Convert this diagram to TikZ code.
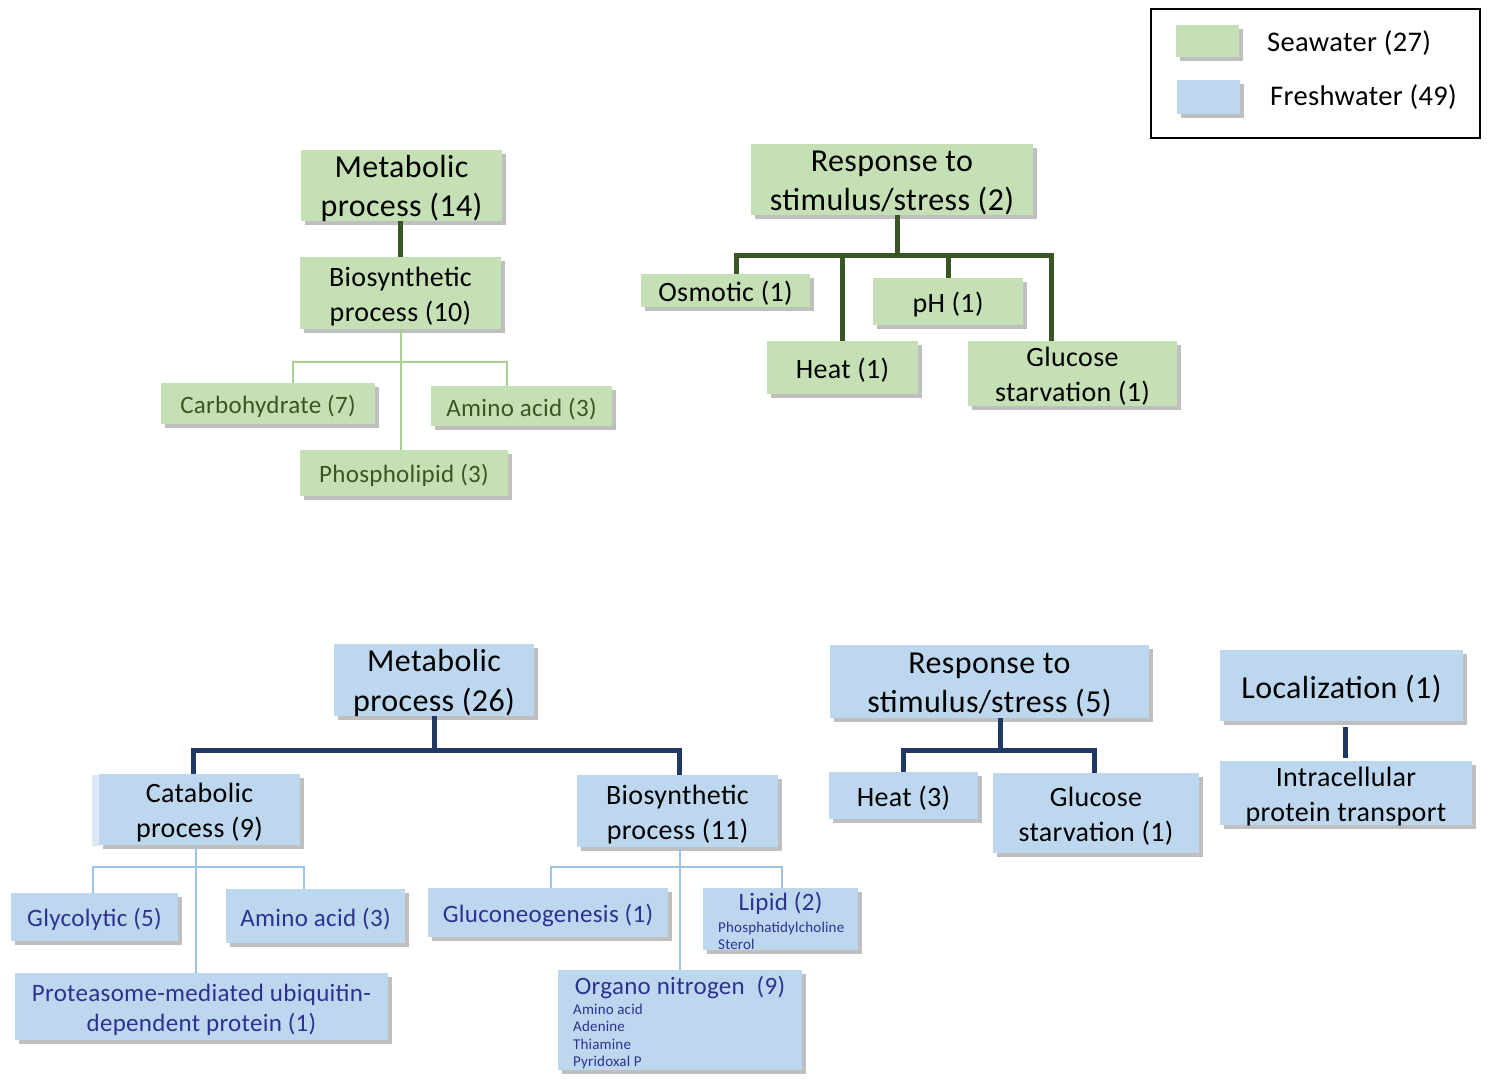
\documentclass[tikz,border=0pt]{standalone}
\usepackage{fontspec}
\setmainfont{Carlito}[LetterSpace=1.2]
\usetikzlibrary{shadows}
\definecolor{gfill}{HTML}{C5E0B4}
\definecolor{bfill}{HTML}{BDD7EE}
\definecolor{gdark}{HTML}{375623}
\definecolor{glight}{HTML}{A9D18E}
\definecolor{bdark}{HTML}{1F3864}
\definecolor{blight}{HTML}{9DC3E6}
\definecolor{gtext}{HTML}{385723}
\definecolor{btext}{HTML}{2E3192}
\newcommand\twol[2]{\raisebox{-3.5pt}[\dimexpr\height-14pt\relax][\dimexpr\depth-14pt\relax]{\begin{tabular}{@{}c@{}}#1\\#2\end{tabular}}}
\tikzset{
  sz/.style 2 args={minimum width=#1pt, minimum height=#2pt},
  shad/.style={drop shadow={shadow xshift=4pt, shadow yshift=-4pt, opacity=0.45, fill=black!55}},
  lower/.style={execute at begin node={\rule{0pt}{0.95em}}},
  gbox/.style={fill=gfill, draw=none, shad, inner sep=0pt, align=center, lower},
  bbox/.style={fill=bfill, draw=none, shad, inner sep=0pt, align=center, lower},
  big/.style={font=\fontsize{32}{39.5}\selectfont},
  mid/.style={font=\fontsize{28}{35}\selectfont},
  sml/.style={font=\fontsize{25}{30}\selectfont},
  tiny/.style={font=\fontsize{15}{17.3}\selectfont, align=left, inner sep=0pt},
  leg/.style={font=\fontsize{28.5}{34}\selectfont, inner sep=0pt, anchor=west},
  gthick/.style={draw=gdark, line width=5pt},
  gthin/.style={draw=glight, line width=2pt},
  bthick/.style={draw=bdark, line width=5pt},
  bthin/.style={draw=blight, line width=2pt},
}
\begin{document}
\begin{tikzpicture}[x=1pt,y=-1pt]
\fill[white] (0,0) rectangle (1487,1080);
\useasboundingbox (0,0) rectangle (1487,1080);

% legend
\node[draw=black, line width=2pt, sz={329}{129}] (legend) at (1315.5,73.5) {};
\node[gbox, sz={63}{32}] (lg) at (1207.5,41) {};
\node[bbox, sz={63}{34}] (lb) at (1208.5,97) {};
\node[leg] (lgt) at (1267,43) {Seawater (27)};
\node[leg] (lbt) at (1270,97.5) {Freshwater (49)};

% ---- seawater: metabolic
\node[gbox, big, sz={201}{71}] (m14) at (401.5,185.5) {\twol{Metabolic}{process (14)}};
\node[gbox, mid, sz={201}{72}] (b10) at (400.5,293) {\twol{Biosynthetic}{process (10)}};
\node[gbox, sml, text=gtext, sz={214}{41}] (carb) at (268,403.5) {Carbohydrate (7)};
\node[gbox, sml, text=gtext, sz={181}{40}] (amino) at (521.5,406) {Amino acid (3)};
\node[gbox, sml, text=gtext, sz={208}{46}] (phos) at (404,473) {Phospholipid (3)};
\coordinate (tlbus) at (400.5,362);
\draw[gthick] (m14.south -| b10.north) -- (b10.north);
\draw[gthin] (b10.south) -- (b10.south |- phos.north);
\draw[gthin] ([xshift=25pt]carb.north) |- (tlbus) -| ([xshift=-14.5pt]amino.north);

% ---- seawater: response
\node[gbox, big, sz={282}{71}] (r2) at (892,179.5) {\twol{Response to}{stimulus/stress (2)}};
\node[gbox, mid, sz={169}{33}] (osm) at (725.5,290.5) {Osmotic (1)};
\node[gbox, mid, sz={150}{47}] (ph) at (948,301.5) {pH (1)};
\node[gbox, mid, sz={151}{53}] (heat) at (842.5,367.5) {Heat (1)};
\node[gbox, mid, sz={209}{65}] (glu) at (1072.5,373.5) {\twol{Glucose}{starvation (1)}};
\coordinate (rbus) at (897,255);
\draw[gthick] ([xshift=5pt]r2.south) -- (rbus);
\draw[gthick, line join=miter] ([xshift=10.5pt]osm.north) |- (rbus) -| ([xshift=-21.5pt]glu.north);
\draw[gthick] (heat.north) -- (heat.north |- rbus);
\draw[gthick] (ph.north) -- (ph.north |- rbus);

% ---- freshwater: metabolic
\node[bbox, big, sz={200}{72}] (m26) at (434,680) {\twol{Metabolic}{process (26)}};
\fill[bfill!55] (92,775) rectangle (100,846);
\node[bbox, mid, sz={201}{71}] (cat) at (199.5,809.5) {\twol{Catabolic}{process (9)}};
\node[bbox, mid, sz={201}{72}] (b11) at (677.5,811) {\twol{Biosynthetic}{process (11)}};
\coordinate (blbus) at (434,750);
\draw[bthick] (m26.south) -- (blbus);
\draw[bthick, line join=miter] ([xshift=-6.5pt]cat.north) |- (blbus) -| ([xshift=1.5pt]b11.north);

\node[bbox, sml, text=btext, sz={167}{48}] (gly) at (94.5,917) {Glycolytic (5)};
\node[bbox, sml, text=btext, sz={179}{54}] (amino2) at (315.5,916) {Amino acid (3)};
\node[bbox, sml, text=btext, sz={373}{67}] (prot) at (201.5,1006.5) {\twol{Proteasome-mediated ubiquitin-}{dependent protein (1)}};
\coordinate (cbus) at (196,867);
\draw[bthin] (cat.south -| cbus) -- (prot.north -| cbus);
\draw[bthin] ([xshift=-1.5pt]gly.north) |- (cbus) -| ([xshift=-11.5pt]amino2.north);

\node[bbox, sml, text=btext, sz={240}{49}] (gluc) at (548,912.5) {Gluconeogenesis (1)};
\node[bbox, sz={155}{62}] (lipid) at (780.5,919) {};
\node[sml, text=btext, inner sep=0pt] (lipidt) at (780.5,903) {Lipid (2)};
\node[tiny, text=btext, anchor=west] (lipids) at (718,936) {Phosphatidylcholine\\Sterol};
\node[bbox, sz={244}{100}] (org) at (680,1020) {};
\node[sml, text=btext, inner sep=0pt] (orgt) at (680,987) {Organo nitrogen~~(9)};
\node[tiny, text=btext, anchor=north west] (orgs) at (573,1004) {Amino acid\\Adenine\\Thiamine\\Pyridoxal P};
\coordinate (bbus) at (680,867);
\draw[bthin] (b11.south -| bbus) -- (org.north -| bbus);
\draw[bthin] ([xshift=3pt]gluc.north) |- (bbus) -| ([xshift=1.5pt]lipid.north);

% ---- freshwater: response
\node[bbox, big, sz={319}{73}] (r5) at (989.5,681.5) {\twol{Response to}{stimulus/stress (5)}};
\node[bbox, mid, sz={149}{47}] (heat3) at (903.5,795.5) {Heat (3)};
\node[bbox, mid, sz={206}{80}] (glu5) at (1096,813) {\twol{Glucose}{starvation (1)}};
\coordinate (r5bus) at (1000,750);
\draw[bthick] ([xshift=10.5pt]r5.south) -- (r5bus);
\draw[bthick, line join=miter] (heat3.north) |- (r5bus) -| ([xshift=-2pt]glu5.north);

% ---- freshwater: localization
\node[bbox, big, sz={243}{71}] (loc) at (1341.5,685.5) {Localization (1)};
\node[bbox, mid, sz={252}{64}] (intra) at (1346,793) {\twol{Intracellular}{protein transport}};
\draw[bthick, shorten <=6pt, shorten >=3pt] (loc.south -| 1345,0) -- (intra.north -| 1345,0);
\end{tikzpicture}
\end{document}
